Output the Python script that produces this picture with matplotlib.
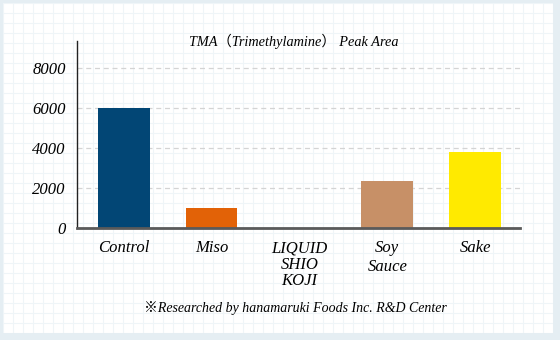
import numpy as np
import matplotlib
matplotlib.use('Agg')
import matplotlib.pyplot as plt

# data
categories = ['Control', 'Miso', 'LIQUID\nSHIO\nKOJI', 'Soy\nSauce', 'Sake']
peak_area = [6000, 1000, 0, 2350, 3800]
bar_colors = ['#024675', '#e26207', '#e26207', '#c79067', '#ffea00']
y_ticks = [0, 2000, 4000, 6000, 8000]
label_spacing = [1.0, 1.0, 1.03, 1.2, 1.0]

plt.rcParams['font.family'] = ['Liberation Serif', 'Noto Sans CJK JP', 'DejaVu Sans']
plt.rcParams['font.style'] = 'italic'

W, H = 560, 340
fig = plt.figure(figsize=(W / 100, H / 100), dpi=100)
fig.patch.set_facecolor('#e5eef3')

# white panel with faint graph-paper grid
bg = fig.add_axes([3 / W, 7 / H, 550 / W, 330 / H])
bg.set_facecolor('white')
bg.set_xlim(0, 550)
bg.set_ylim(0, 330)
bg.set_xticks(np.arange(0, 551, 10))
bg.set_yticks(np.arange(0, 331, 10))
bg.grid(True, color='#eff5f8', linewidth=0.8)
bg.tick_params(length=0, labelbottom=False, labelleft=False)
for s in bg.spines.values():
    s.set_visible(False)

# main chart
ax = fig.add_axes([77 / W, (H - 228) / H, (520 - 77) / W, (228 - 41) / H])
ax.set_facecolor('none')
x = np.arange(len(categories))
ax.bar(x, peak_area, width=0.59, color=bar_colors, zorder=3)

ax.set_xlim(-0.53, 4.51)
ax.set_ylim(0, 9350)
ax.set_yticks(y_ticks)
ax.set_yticklabels([str(v) for v in y_ticks], fontsize=12)
ax.set_xticks(x)
ax.set_xticklabels(categories, fontsize=12)
for lbl, sp in zip(ax.get_xticklabels(), label_spacing):
    lbl.set_linespacing(sp)
ax.tick_params(axis='both', length=0)
ax.tick_params(axis='y', pad=8)
ax.tick_params(axis='x', pad=9)

ax.yaxis.grid(True, color='#d4d4d4', linestyle=(0, (4, 3)), linewidth=0.9, zorder=0)
ax.spines['top'].set_visible(False)
ax.spines['right'].set_visible(False)
ax.spines['left'].set_color('#222222')
ax.spines['left'].set_linewidth(1.0)
ax.spines['bottom'].set_color('#5a5a5a')
ax.spines['bottom'].set_linewidth(2.0)
ax.spines['bottom'].set_zorder(4)

fig.text(294 / W, 1 - 41 / H, 'TMA（Trimethylamine） Peak Area',
         ha='center', va='center', fontsize=10.3, style='italic')
fig.text(295 / W, 1 - 308 / H, '※Researched by hanamaruki Foods Inc. R&D Center',
         ha='center', va='center', fontsize=10, style='italic')

fig.savefig('out.png', dpi=100)
